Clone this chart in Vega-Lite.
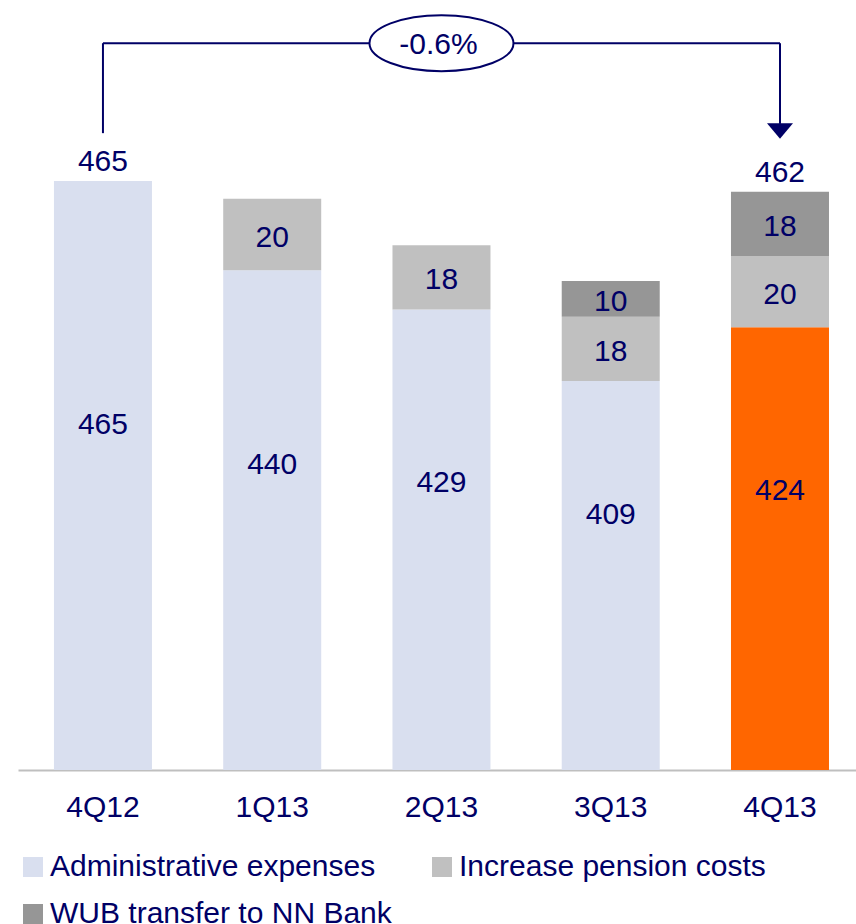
{
  "$schema": "https://vega.github.io/schema/vega-lite/v6.json",
  "autosize": "none",
  "width": 838,
  "height": 770,
  "padding": {"left": 18, "top": 0, "right": 0, "bottom": 154},
  "background": "white",
  "config": {
    "view": {"stroke": null},
    "font": "Liberation Sans",
    "text": {"font": "Liberation Sans", "color": "#000066", "fontWeight": "normal"}
  },
  "data": {
    "values": [
      {"quarter": "4Q12", "series": "Administrative expenses", "value": 465},
      {"quarter": "1Q13", "series": "Administrative expenses", "value": 440},
      {"quarter": "1Q13", "series": "Increase pension costs", "value": 20},
      {"quarter": "2Q13", "series": "Administrative expenses", "value": 429},
      {"quarter": "2Q13", "series": "Increase pension costs", "value": 18},
      {"quarter": "3Q13", "series": "Administrative expenses", "value": 409},
      {"quarter": "3Q13", "series": "Increase pension costs", "value": 18},
      {"quarter": "3Q13", "series": "WUB transfer to NN Bank", "value": 10},
      {"quarter": "4Q13", "series": "Administrative expenses", "value": 424},
      {"quarter": "4Q13", "series": "Increase pension costs", "value": 20},
      {"quarter": "4Q13", "series": "WUB transfer to NN Bank", "value": 18}
    ]
  },
  "encoding": {
    "x": {
      "field": "quarter",
      "type": "nominal",
      "sort": ["4Q12", "1Q13", "2Q13", "3Q13", "4Q13"],
      "scale": {"paddingInner": 0.421, "paddingOuter": 0.186, "align": 0.571},
      "axis": {
        "title": null,
        "labelAngle": 0,
        "labelFontSize": 30,
        "labelFont": "Liberation Sans",
        "labelColor": "#000066",
        "labelPadding": 22,
        "ticks": false,
        "domainColor": "#BFBFBF",
        "domainWidth": 2,
        "grid": false
      }
    }
  },
  "resolve": {"scale": {"y": "independent"}},
  "layer": [
    {
      "mark": {"type": "bar", "clip": true},
      "encoding": {
        "y": {
          "field": "value",
          "type": "quantitative",
          "stack": "zero",
          "scale": {"domain": [300, 515.7], "zero": false, "nice": false},
          "axis": null
        },
        "order": {"field": "series", "sort": "ascending"},
        "color": {
          "condition": {
            "test": "datum.quarter === '4Q13' && datum.series === 'Administrative expenses'",
            "value": "#FF6600"
          },
          "field": "series",
          "type": "nominal",
          "scale": {
            "domain": ["Administrative expenses", "Increase pension costs", "WUB transfer to NN Bank"],
            "range": ["#D9DFEF", "#C0C0C0", "#969696"]
          },
          "legend": {
            "title": null,
            "orient": "bottom",
            "direction": "horizontal",
            "columns": 2,
            "symbolType": "square",
            "symbolSize": 400,
            "symbolStrokeWidth": 0,
            "labelFontSize": 30,
            "labelFont": "Liberation Sans",
            "labelColor": "#000066",
            "labelOffset": 2,
            "labelLimit": 500,
            "columnPadding": 35,
            "rowPadding": 17,
            "offset": 30
          }
        }
      }
    },
    {
      "mark": {"type": "text", "fontSize": 30, "baseline": "middle", "clip": true, "dy": 3},
      "encoding": {
        "y": {
          "field": "value",
          "type": "quantitative",
          "stack": "zero",
          "bandPosition": 0.5,
          "scale": {"domain": [300, 515.7], "zero": false, "nice": false},
          "axis": null
        },
        "order": {"field": "series", "sort": "ascending"},
        "text": {
          "condition": {"test": "datum.series === 'Administrative expenses'", "value": ""},
          "field": "value",
          "type": "quantitative"
        }
      }
    },
    {
      "transform": [{"filter": "datum.series === 'Administrative expenses'"}],
      "mark": {"type": "text", "fontSize": 30, "baseline": "middle", "dy": -80},
      "encoding": {
        "y": {
          "field": "value",
          "type": "quantitative",
          "scale": {"domain": [300, 779.2], "zero": false, "nice": false},
          "axis": null
        },
        "text": {"field": "value", "type": "quantitative"}
      }
    },
    {
      "transform": [
        {"filter": "datum.quarter === '4Q12' || datum.quarter === '4Q13'"},
        {"aggregate": [{"op": "sum", "field": "value", "as": "total"}], "groupby": ["quarter"]}
      ],
      "mark": {"type": "text", "fontSize": 30, "baseline": "alphabetic", "dy": -10},
      "encoding": {
        "y": {
          "field": "total",
          "type": "quantitative",
          "scale": {"domain": [300, 515.7], "zero": false, "nice": false},
          "axis": null
        },
        "text": {"field": "total", "type": "quantitative"}
      }
    },
    {
      "data": {"values": [{}]},
      "mark": {"type": "rule", "color": "#000066", "strokeWidth": 2},
      "encoding": {
        "x": {"datum": "4Q12"},
        "y": {"datum": 478.4, "scale": {"domain": [300, 515.7], "zero": false, "nice": false}, "axis": null},
        "y2": {"datum": 503.6}
      }
    },
    {
      "data": {"values": [{}]},
      "mark": {"type": "rule", "color": "#000066", "strokeWidth": 2},
      "encoding": {
        "x": {"datum": "4Q13"},
        "y": {"datum": 481, "scale": {"domain": [300, 515.7], "zero": false, "nice": false}, "axis": null},
        "y2": {"datum": 503.6}
      }
    },
    {
      "data": {"values": [{}]},
      "mark": {"type": "rule", "color": "#000066", "strokeWidth": 2},
      "encoding": {
        "x": {"datum": "4Q12"},
        "x2": {"datum": "4Q13"},
        "y": {"datum": 503.6, "scale": {"domain": [300, 515.7], "zero": false, "nice": false}, "axis": null}
      }
    },
    {
      "data": {"values": [{}]},
      "mark": {"type": "point", "shape": "M -1 -0.6 L 1 -0.6 L 0 0.6 Z", "size": 676, "filled": true, "color": "#000066", "opacity": 1},
      "encoding": {
        "x": {"datum": "4Q13"},
        "y": {"datum": 479, "scale": {"domain": [300, 515.7], "zero": false, "nice": false}, "axis": null}
      }
    },
    {
      "data": {"values": [{}]},
      "mark": {"type": "point", "shape": "M -1 0 A 1 0.389 0 1 0 1 0 A 1 0.389 0 1 0 -1 0 Z", "size": 20736, "filled": false, "fill": "white", "fillOpacity": 1, "stroke": "#000066", "strokeWidth": 2, "opacity": 1},
      "encoding": {
        "x": {"datum": "2Q13"},
        "y": {"datum": 503.6, "scale": {"domain": [300, 515.7], "zero": false, "nice": false}, "axis": null}
      }
    },
    {
      "data": {"values": [{}]},
      "mark": {"type": "text", "fontSize": 30, "fontWeight": "normal", "baseline": "middle", "dx": -3, "dy": 2},
      "encoding": {
        "x": {"datum": "2Q13"},
        "y": {"datum": 503.6, "scale": {"domain": [300, 515.7], "zero": false, "nice": false}, "axis": null},
        "text": {"value": "-0.6%"}
      }
    }
  ]
}
